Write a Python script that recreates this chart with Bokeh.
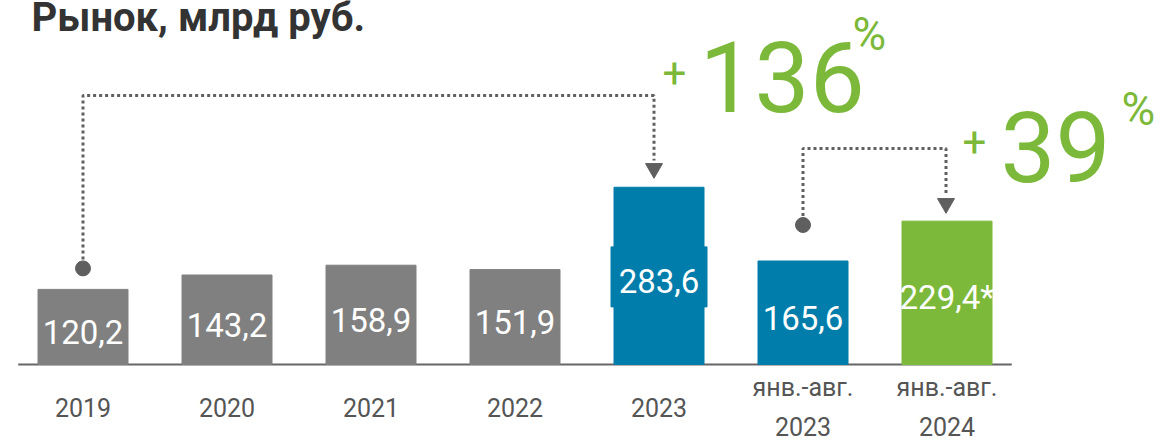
from bokeh.plotting import figure
from bokeh.models import Label, ColumnDataSource, Range1d
from bokeh.core.properties import value
from bokeh.embed import file_html
from bokeh.resources import INLINE

# ---- data ----
categories = ["2019", "2020", "2021", "2022", "2023", "янв.-авг.\n2023", "янв.-авг.\n2024"]
values = [120.2, 143.2, 158.9, 151.9, 283.6, 165.6, 229.4]
value_labels = ["120,2", "143,2", "158,9", "151,9", "283,6", "165,6", "229,4*"]
bar_colors = ["#808080", "#808080", "#808080", "#808080", "#007dab", "#007dab", "#7cb93a"]
growth_labels = ["136", "39"]
growth_pairs = [(0, 4), (5, 6)]
title_text = "Рынок, млрд руб."

FONT = "Roboto"
W, H = 1163, 442
SCALE = 0.625          # px per unit
BASE_Y = 364           # page px of the zero line
STEP = 144.0           # px per category
X0 = 82.5              # px of first category centre

def py(Y):
    """page-pixel y -> data y"""
    return (BASE_Y - Y) / SCALE

x = list(range(len(categories)))
src = ColumnDataSource(dict(x=x, top=values, color=bar_colors, lab=value_labels,
                            mid=[v / 2 - 5 / SCALE for v in values], cat=categories))

p = figure(width=W, height=H, output_backend="svg", toolbar_location=None,
           x_range=Range1d(-X0 / STEP, (W - X0) / STEP),
           y_range=Range1d(py(H), py(0)),
           min_border=0, outline_line_color=None)
p.axis.visible = False
p.grid.visible = False
p.background_fill_color = "white"

# baseline
p.line([-0.45, 6.45], [0, 0], line_color="#666666", line_width=2)

# bars
p.vbar(x="x", top="top", bottom=0, width=90 / STEP, color="color", source=src)
# highlight box behind 2023 label
i23 = 4
p.rect(x=[i23], y=[values[i23] / 2 - 1 / SCALE], width=96 / STEP, height=60 / SCALE,
       color=bar_colors[i23])

# value labels
p.text(x="x", y="mid", text="lab", source=src, text_color="white",
       text_font=value(FONT), text_font_size="33px",
       text_align="center", text_baseline="middle")

# category labels
p.text(x="x", y=py(407), text="cat", source=src, text_color="#555555",
       text_font=value(FONT), text_font_size="25px", text_line_height=1.35,
       text_align="center", text_baseline="middle")

# connectors
conn = [dict(dot=21, level=95, tip=174, shift=-5), dict(dot=36, level=148, tip=209, shift=-1)]
for (a, b), c in zip(growth_pairs, conn):
    dot_y = values[a] + c["dot"] / SCALE
    lev = py(c["level"])
    tip_top = py(c["tip"] - 14)
    bx = b + c["shift"] / STEP
    p.line([a, a, bx, bx], [dot_y + 9 / SCALE, lev, lev, tip_top],
           line_color="#606060", line_width=3, line_dash="3 3")
    p.scatter([a], [dot_y], size=15, color="#5f5f5f")
    p.scatter([bx], [py(c["tip"] - 6)], marker="inverted_triangle", size=17,
              color="#5f5f5f")

GREEN = "#7cb93a"
def lab(text, xpx, ypx, size, align="left"):
    # ypx: wanted glyph baseline (page px); compensate renderer's baseline offset
    adj = ypx - 0.365 * size
    p.add_layout(Label(x=xpx, y=H - adj, x_units="screen", y_units="screen",
                       text=text, text_font=FONT, text_font_size=f"{size}px",
                       text_color=GREEN, text_align=align, text_baseline="alphabetic"))

lab("+", 674, 88, 42, "center")
lab(growth_labels[0], 699, 112, 98)
lab("%", 852, 50, 46)
lab("+", 974, 157, 42, "center")
lab(growth_labels[1], 1000, 182, 98)
lab("%", 1121, 125, 46)

p.add_layout(Label(x=31, y=H - 40, x_units="screen", y_units="screen",
                   text=title_text, text_font=FONT, text_font_size="40px",
                   text_font_style="bold", text_color="#333333"))

open("out.html", "w").write(file_html(p, INLINE))
